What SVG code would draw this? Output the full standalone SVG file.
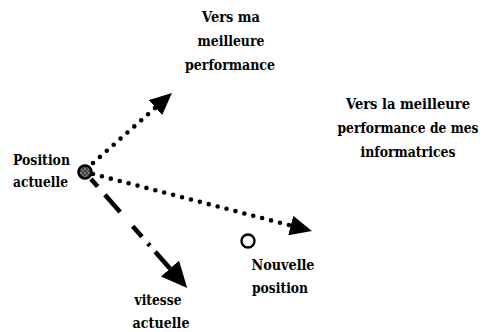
<svg xmlns="http://www.w3.org/2000/svg" width="483" height="332" viewBox="0 0 483 332">
  <style>
    text { font-family: "DejaVu Serif", "Liberation Serif", serif; font-size: 15px; font-weight: bold; fill: #000; text-anchor: middle; }
    text.lbl-left { text-anchor: start; }
    .dots { fill: none; stroke: #000; stroke-width: 4.6; stroke-linecap: round; stroke-dasharray: 0 9.2; }
    .dashdot { fill: none; stroke: #000; stroke-width: 4.6; stroke-linecap: butt; stroke-dasharray: 10 11 23 19 14 9 3 8 40; }
  </style>
  <defs>
    <marker id="head" viewBox="0 0 22 20" refX="0" refY="10" markerWidth="22" markerHeight="20" markerUnits="userSpaceOnUse" orient="auto">
      <path d="M0,0 L22,10 L0,20 Z" fill="#000"/>
    </marker>
    <marker id="head-big" viewBox="0 0 26 24" refX="0" refY="12" markerWidth="26" markerHeight="24" markerUnits="userSpaceOnUse" orient="auto">
      <path d="M0,0 L26,12 L0,24 Z" fill="#000"/>
    </marker>
    <pattern id="speckle" width="4" height="4" patternUnits="userSpaceOnUse">
      <rect width="4" height="4" fill="#444"/>
      <circle cx="1" cy="1" r="0.8" fill="#bbb"/>
      <circle cx="3" cy="3" r="0.7" fill="#999"/>
    </pattern>
  </defs>

  <!-- connectors -->
  <g id="connectors">
    <line id="to-own-best" class="dots" x1="93" y1="163" x2="155.5" y2="107.6" marker-end="url(#head)"/>
    <line id="to-group-best" class="dots" x1="93" y1="174" x2="290.7" y2="225.5" marker-end="url(#head)"/>
    <line id="velocity" class="dashdot" x1="91" y1="179" x2="170" y2="268.5" marker-end="url(#head-big)"/>
  </g>

  <!-- current position -->
  <g id="current-position">
    <circle cx="85" cy="172" r="6.5" fill="url(#speckle)" stroke="#000" stroke-width="2.6"/>
    <text class="lbl-left" x="13" y="165" textLength="57" lengthAdjust="spacingAndGlyphs">Position</text>
    <text class="lbl-left" x="13" y="187" textLength="55" lengthAdjust="spacingAndGlyphs">actuelle</text>
  </g>

  <!-- own best -->
  <g id="own-best">
    <text x="231" y="22" textLength="58" lengthAdjust="spacingAndGlyphs">Vers ma</text>
    <text x="231" y="46" textLength="67" lengthAdjust="spacingAndGlyphs">meilleure</text>
    <text x="230" y="70" textLength="90" lengthAdjust="spacingAndGlyphs">performance</text>
  </g>

  <!-- group best -->
  <g id="group-best">
    <text x="408" y="109" textLength="124" lengthAdjust="spacingAndGlyphs">Vers la meilleure</text>
    <text x="408" y="133" textLength="141" lengthAdjust="spacingAndGlyphs">performance de mes</text>
    <text x="408" y="157" textLength="95" lengthAdjust="spacingAndGlyphs">informatrices</text>
  </g>

  <!-- new position -->
  <g id="new-position">
    <circle cx="248" cy="241" r="6.5" fill="#fff" stroke="#000" stroke-width="2.4"/>
    <text x="283" y="270" textLength="63" lengthAdjust="spacingAndGlyphs">Nouvelle</text>
    <text x="280" y="293" textLength="56" lengthAdjust="spacingAndGlyphs">position</text>
  </g>

  <!-- current velocity -->
  <g id="current-velocity">
    <text x="158" y="305" textLength="47" lengthAdjust="spacingAndGlyphs">vitesse</text>
    <text x="161" y="328" textLength="57" lengthAdjust="spacingAndGlyphs">actuelle</text>
  </g>
</svg>
